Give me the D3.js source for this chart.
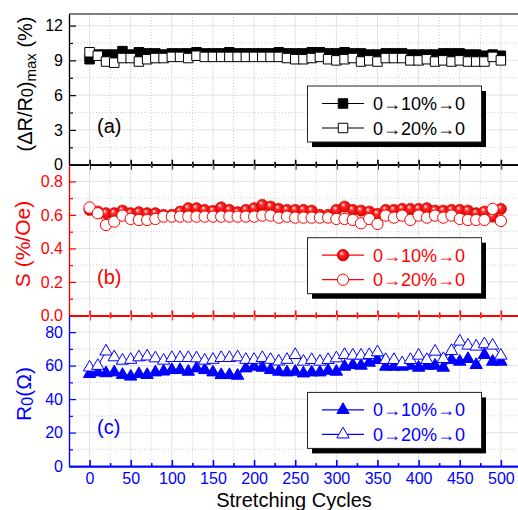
<!DOCTYPE html>
<html lang="en">
<head>
<meta charset="UTF-8">
<title>Stretching cycles</title>
<script src="https://cdn.jsdelivr.net/npm/d3@7"></script>
<style>
    body{ margin:0; background:#fff; }
    text{ font-family: "Liberation Sans", Arial, sans-serif; }
</style>
</head>
<body>
<div id="chart"></div>
<script>
    ////////////////////////////////////////////////////////////////
    /*                        Data                                */
    ////////////////////////////////////////////////////////////////
    const cycles = [0,10,20,30,40,50,60,70,80,90,100,110,120,130,140,150,160,170,180,190,
        200,210,220,230,240,250,260,270,280,290,300,310,320,330,340,350,360,370,380,390,
        400,410,420,430,440,450,460,470,480,490,500];

    // (a) (dR/R0)max in %
    const dR10 = [9.1,9.5,9.5,9.5,9.8,9.5,9.7,9.6,9.6,9.5, 9.6,9.6,9.6,9.7,9.6,9.6,9.6,9.7,9.6,9.6,
        9.6,9.6,9.6,9.7,9.6,9.6,9.6,9.7,9.7,9.6, 9.6,9.7,9.6,9.6,9.5,9.5,9.6,9.6,9.6,9.5,
        9.5,9.5,9.5,9.6,9.6,9.6,9.5,9.5,9.4,9.5, 9.4];
    const dR20 = [9.7,9.4,8.9,8.8,9.2,9.2,8.9,9.1,9.2,9.2, 9.3,9.3,9.2,9.4,9.3,9.3,9.3,9.3,9.3,9.3,
        9.3,9.3,9.3,9.3,9.2,9.1,9.1,9.2,9.3,9.1, 9.0,9.1,9.2,8.9,9.0,8.9,9.2,9.2,9.2,9.0,
        9.0,9.1,8.9,9.0,8.9,9.0,8.9,8.9,8.9,9.3, 9.0];

    // (b) S in %/Oe
    const s10 = [0.63,0.62,0.61,0.61,0.626,0.61,0.616,0.61,0.61,0.60, 0.60,0.62,0.64,0.64,0.63,0.624,0.645,0.63,0.616,0.63,
        0.64,0.66,0.65,0.636,0.63,0.63,0.63,0.626,0.60,0.60, 0.63,0.65,0.63,0.626,0.62,0.606,0.63,0.63,0.636,0.636,
        0.636,0.64,0.626,0.626,0.63,0.63,0.626,0.61,0.62,0.59, 0.636];
    const s20 = [0.644,0.61,0.54,0.56,0.596,0.576,0.57,0.57,0.576,0.59, 0.59,0.59,0.59,0.59,0.59,0.59,0.59,0.59,0.59,0.59,
        0.59,0.596,0.596,0.584,0.59,0.584,0.584,0.584,0.584,0.584, 0.576,0.576,0.57,0.55,0.576,0.546,0.596,0.584,0.596,0.57,
        0.596,0.584,0.596,0.584,0.596,0.576,0.57,0.57,0.57,0.636, 0.564];

    // (c) R0 in Ohm
    const r10 = [55,56,55.5,56,54.5,53.5,55,54.5,56,56.5, 57.4,57.4,56.4,58.4,57.4,56,54.4,54.4,54,58.4,
        59.4,58.8,57.4,56.4,56,56.4,55.4,56,56,57, 56.4,59.4,60.4,60,61.8,63.4,59.4,59.4,59.4,60,
        58.8,60,60,58.8,63.4,62.4,64,60.4,66.4,62.4, 62.4];
    const r20 = [58.9,59.9,68.5,65,63,63.5,65,65.5,64.4,63, 64.6,64.6,64.6,64.4,63,63.5,64.6,64.6,65,63.5,
        63.5,64.6,63.5,62.5,63.5,66.4,62.4,63.4,62.4,63.4, 64.4,66.4,66,66,66.4,68,63.4,63.4,61.4,63.4,
        66,63.4,68.4,64,68.8,74.4,72,71.4,72.8,72, 66];

    const xTicks = [0,50,100,150,200,250,300,350,400,450,500];
    const xMinor = [25,75,125,175,225,275,325,375,425,475];
    const legendNames = ["0\u219210%\u21920", "0\u219220%\u21920"];

    ////////////////////////////////////////////////////////////////
    /*                   Layout and containers                    */
    ////////////////////////////////////////////////////////////////
    const width = 518, height = 510;
    const plotLeft = 69, plotTop = 14, panelH = 150.7;

    const svg = d3.select("#chart").append("svg")
        .attr("width", width).attr("height", height);

    const defs = svg.append("defs");
    const grad = defs.append("radialGradient").attr("id", "ball")
        .attr("cx", "50%").attr("cy", "50%").attr("r", "55%")
        .attr("fx", "35%").attr("fy", "30%");
    grad.append("stop").attr("offset", "0%").attr("stop-color", "#ffffff");
    grad.append("stop").attr("offset", "35%").attr("stop-color", "#ff2a2a");
    grad.append("stop").attr("offset", "100%").attr("stop-color", "#d00000");

    const x = d3.scaleLinear().domain([-25, 525]).range([plotLeft, plotLeft + 550 * 0.8226]);

    const panels = [
        { name: "(a)", color: "#000000", domain: [0, 13], major: [0,3,6,9,12], minor: [1.5,4.5,7.5,10.5],
          fmt: d3.format("d"), s1: dR10, s2: dR20, symbol: d3.symbolSquare, size: 90,
          fill1: "#000000", legendTop: 72 },
        { name: "(b)", color: "#ff0000", domain: [0, 0.9], major: [0,0.2,0.4,0.6,0.8], minor: [0.1,0.3,0.5,0.7],
          fmt: d3.format(".1f"), s1: s10, s2: s20, symbol: d3.symbolCircle, size: 100,
          fill1: "url(#ball)", legendTop: 73 },
        { name: "(c)", color: "#0000ff", domain: [0, 90], major: [0,20,40,60,80], minor: [10,30,50,70],
          fmt: d3.format("d"), s1: r10, s2: r20, symbol: d3.symbolTriangle, size: 66,
          fill1: "#0000ff", legendTop: 77 }
    ];

    panels.forEach((p, i) => {
        const y0 = plotTop + i * panelH, y1 = y0 + panelH;
        const y = d3.scaleLinear().domain(p.domain).range([y1, y0]);
        const g = svg.append("g");

        // grid
        const grid = g.append("g");
        grid.selectAll(".hmaj").data(p.major.slice(1)).join("line")
            .attr("x1", plotLeft).attr("x2", width).attr("y1", d => y(d)).attr("y2", d => y(d))
            .attr("stroke", "#e2e2e2").attr("stroke-width", 1);
        grid.selectAll(".hmin").data(p.minor).join("line")
            .attr("x1", plotLeft).attr("x2", width).attr("y1", d => y(d)).attr("y2", d => y(d))
            .attr("stroke", "#cfcfcf").attr("stroke-dasharray", "1,2");
        grid.selectAll(".vmaj").data(xTicks).join("line")
            .attr("x1", d => x(d)).attr("x2", d => x(d)).attr("y1", y0).attr("y2", y1)
            .attr("stroke", "#e2e2e2").attr("stroke-width", 1);
        grid.selectAll(".vmin").data(xMinor).join("line")
            .attr("x1", d => x(d)).attr("x2", d => x(d)).attr("y1", y0).attr("y2", y1)
            .attr("stroke", "#cfcfcf").attr("stroke-dasharray", "1,2");

        // series: lines then markers, open series on top
        const line = d3.line().x((d, k) => x(cycles[k])).y(d => y(d));
        [p.s1, p.s2].forEach(s => {
            g.append("path").datum(s).attr("d", line)
                .attr("fill", "none").attr("stroke", p.color).attr("stroke-width", 1);
        });
        const sym = d3.symbol().type(p.symbol).size(p.size);
        g.append("g").selectAll("path").data(p.s1).join("path")
            .attr("transform", (d, k) => `translate(${x(cycles[k])},${y(d)})`)
            .attr("d", sym)
            .attr("fill", p.fill1)
            .attr("stroke", i === 1 ? "#e00000" : p.color).attr("stroke-width", i === 1 ? 0.6 : 1);
        g.append("g").selectAll("path").data(p.s2).join("path")
            .attr("transform", (d, k) => `translate(${x(cycles[k])},${y(d)})`)
            .attr("d", sym)
            .attr("fill", "#ffffff")
            .attr("stroke", p.color).attr("stroke-width", 1);

        // left axis
        const yAxis = g.append("g").attr("transform", `translate(${plotLeft},0)`)
            .call(d3.axisLeft(y).tickValues(p.major).tickSize(-7).tickSizeOuter(0).tickPadding(6).tickFormat(p.fmt));
        g.append("g").attr("transform", `translate(${plotLeft},0)`)
            .call(d3.axisLeft(y).tickValues(p.minor).tickSize(-4).tickSizeOuter(0).tickFormat(""));
        yAxis.selectAll("text").attr("font-size", "16px").attr("font-family", "Liberation Sans, Arial, sans-serif");
        g.selectAll(".domain, .tick line").attr("stroke-width", 1.2);
        g.selectAll("g").filter(function () { return this.querySelector(".domain"); }).attr("color", p.color);

        // bottom axis of the panel
        const bx = g.append("g").attr("transform", `translate(0,${y1})`).attr("color", p.color);
        if (i < 2) {
            bx.append("g").call(d3.axisBottom(x).tickValues(xTicks).tickSize(5).tickSizeOuter(0).tickFormat(""));
            bx.append("g").call(d3.axisTop(x).tickValues(xTicks).tickSize(5).tickSizeOuter(0).tickFormat(""));
            bx.append("g").call(d3.axisBottom(x).tickValues(xMinor).tickSize(3).tickSizeOuter(0).tickFormat(""));
            bx.append("g").call(d3.axisTop(x).tickValues(xMinor).tickSize(3).tickSizeOuter(0).tickFormat(""));
        } else {
            bx.append("g").call(d3.axisBottom(x).tickValues(xTicks).tickSize(-6).tickSizeOuter(0).tickPadding(7))
                .selectAll("text").attr("font-size", "16px").attr("font-family", "Liberation Sans, Arial, sans-serif");
            bx.append("g").call(d3.axisBottom(x).tickValues(xMinor).tickSize(-3).tickSizeOuter(0).tickFormat(""));
        }
        bx.selectAll(".domain, .tick line").attr("stroke-width", 1.6);

        // panel letter
        g.append("text").attr("x", 97).attr("y", y0 + 119).attr("font-size", "20px")
            .attr("fill", p.color).text(p.name);

        // legend
        const lt = y0 + p.legendTop;
        const lg = g.append("g");
        lg.append("rect").attr("x", 312).attr("y", lt + 5).attr("width", 174).attr("height", 56).attr("fill", "#000");
        lg.append("rect").attr("x", 307.5).attr("y", lt).attr("width", 174).attr("height", 56)
            .attr("fill", "#fff").attr("stroke", "#222").attr("stroke-width", 1);
        [0, 1].forEach(k => {
            const ly = lt + 17.5 + k * 24.5;
            lg.append("line").attr("x1", 322).attr("x2", 364).attr("y1", ly).attr("y2", ly)
                .attr("stroke", p.color).attr("stroke-width", 1.2);
            lg.append("path").attr("transform", `translate(343,${ly})`).attr("d", sym)
                .attr("fill", k === 0 ? p.fill1 : "#fff")
                .attr("stroke", k === 0 && i === 1 ? "#e00000" : p.color).attr("stroke-width", 1);
            lg.append("text").attr("x", 373).attr("y", ly + 6.5).attr("font-size", "18px")
                .attr("fill", p.color).text(legendNames[k]);
        });
    });

    // top frame line
    svg.append("line").attr("x1", plotLeft).attr("x2", width).attr("y1", plotTop).attr("y2", plotTop)
        .attr("stroke", "#000").attr("stroke-width", 1.2);

    ////////////////////////////////////////////////////////////////
    /*                       Axis titles                          */
    ////////////////////////////////////////////////////////////////
    const ta = svg.append("text").attr("transform", "translate(32,84) rotate(-90)")
        .attr("text-anchor", "middle").attr("font-size", "20px").attr("fill", "#000");
    ta.append("tspan").text("(\u0394R/R");
    ta.append("tspan").attr("font-size", "16px").attr("dy", 1).text("0");
    ta.append("tspan").attr("dy", -1).text(")");
    ta.append("tspan").attr("font-size", "15px").attr("dy", 4).text("max");
    ta.append("tspan").attr("dy", -4).text(" (%)");

    svg.append("text").attr("transform", "translate(30,244) rotate(-90)")
        .attr("text-anchor", "middle").attr("font-size", "21px").attr("fill", "#ff0000")
        .text("S (%/Oe)");

    const tc = svg.append("text").attr("transform", "translate(31,394) rotate(-90)")
        .attr("text-anchor", "middle").attr("font-size", "21px").attr("fill", "#0000ff");
    tc.append("tspan").text("R");
    tc.append("tspan").attr("font-size", "16px").attr("dy", 2).text("0");
    tc.append("tspan").attr("dy", -2).text("(\u03A9)");

    svg.append("text").attr("x", 294).attr("y", 507).attr("text-anchor", "middle")
        .attr("font-size", "20px").attr("fill", "#000").text("Stretching Cycles");
</script>
</body>
</html>
